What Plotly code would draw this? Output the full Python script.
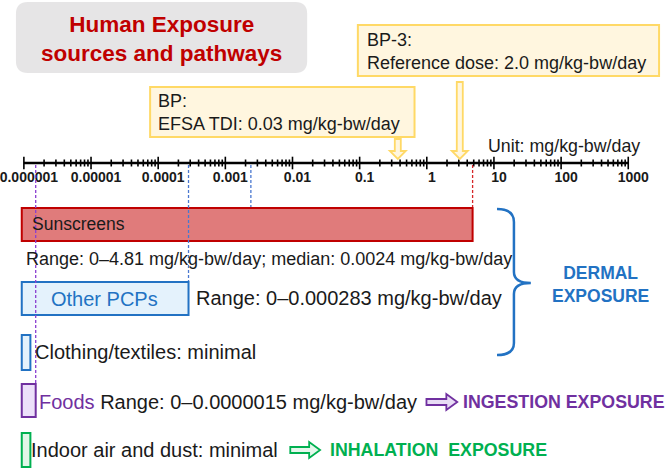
import numpy as np
import plotly.graph_objects as go

# values in mg/kg-bw/day
decades = [1e-6, 1e-5, 1e-4, 1e-3, 1e-2, 1e-1, 1, 10, 100, 1000]
decade_labels = ["0.000001", "0.00001", "0.0001", "0.001", "0.01", "0.1", "1", "10", "100", "1000"]
zero_pos = 9.3e-7          # "0" drawn just left of the axis start
sunscreen_max = 4.81
sunscreen_median = 0.0024
other_pcp_max = 0.000283
foods_max = 0.0000015
minimal = 1.25e-6
bp_arrow_at = 0.37         # arrows where they touch the axis (as drawn)
bp3_arrow_at = 3.1

FONT = "Arial, Liberation Sans, sans-serif"
W, H = 669, 470
AXIS_Y = 163

RED = "#c00000"
BLUE = "#2272c3"
PURPLE = "#7030a0"
GREEN = "#00b050"
GOLD = "#ffd966"
CREAM = "#fff6df"

minor = [m * d for d in decades[:-1] for m in range(2, 10)]

fig = go.Figure()

# axis ticks, both sides of the line
fig.add_trace(go.Scatter(
    x=minor, y=[AXIS_Y] * len(minor), mode="markers", hoverinfo="skip",
    marker={"symbol": "line-ns", "size": 5, "line": {"width": 1.6, "color": "black"}},
))
fig.add_trace(go.Scatter(
    x=decades, y=[AXIS_Y] * len(decades), mode="markers", hoverinfo="skip",
    marker={"symbol": "line-ns", "size": 9, "line": {"width": 1.6, "color": "black"}},
))
# invisible trace so the pixel overlay axis exists
fig.add_trace(go.Scatter(x=[0, W], y=[0, H], xaxis="x2", mode="markers",
                         marker={"opacity": 0}, hoverinfo="skip"))

shapes = []
# axis line
shapes.append(dict(type="line", xref="x", yref="y", x0=decades[0], x1=decades[-1],
                   y0=AXIS_Y, y1=AXIS_Y, line={"color": "black", "width": 2.5}))


def bar(x1, y0, y1, fill, edge, width=2):
    shapes.append(dict(type="rect", xref="x", yref="y", x0=zero_pos, x1=x1, y0=y0, y1=y1,
                       fillcolor=fill, line={"color": edge, "width": width}, layer="below"))


def guide(x, y1, color):
    shapes.append(dict(type="line", xref="x", yref="y", x0=x, x1=x, y0=AXIS_Y + 2, y1=y1,
                       line={"color": color, "width": 1.3, "dash": "3px,2px"}))


bar(sunscreen_max, 208, 241, "#e07b7b", RED)
bar(other_pcp_max, 282, 315, "#e4f2fc", BLUE)
bar(minimal, 335, 370, "#e4f2fc", BLUE)
bar(foods_max, 384, 417, "#ece0fa", PURPLE)
bar(minimal, 433, 467, "#e2f6e8", GREEN)

guide(sunscreen_max, 207, "#d62728")
guide(sunscreen_median, 207, "#4a78d0")
guide(other_pcp_max, 281, "#4a78d0")
guide(foods_max, 383, "#8a3fd0")

# title box
r = 12
x0, x1, y0, y1 = 12, 305, 2, 73
shapes.append(dict(
    type="path", xref="x2", yref="y", fillcolor="#e6e5e6", line={"width": 0},
    path=(f"M{x0+r},{y0} L{x1-r},{y0} Q{x1},{y0} {x1},{y0+r} L{x1},{y1-r} Q{x1},{y1} {x1-r},{y1} "
          f"L{x0+r},{y1} Q{x0},{y1} {x0},{y1-r} L{x0},{y0+r} Q{x0},{y0} {x0+r},{y0} Z"),
))
# reference dose boxes
shapes.append(dict(type="rect", xref="x2", yref="y", x0=356, x1=659, y0=25, y1=76,
                   fillcolor=CREAM, line={"color": GOLD, "width": 2}))
shapes.append(dict(type="rect", xref="x2", yref="y", x0=147, x1=413, y0=87, y1=137,
                   fillcolor=CREAM, line={"color": GOLD, "width": 2}))


def down_arrow(xval, top):
    # hollow block arrow, x anchored to the data axis, size in pixels
    shapes.append(dict(
        type="path", xref="x", yref="y", xsizemode="pixel", xanchor=xval,
        path=(f"M-3,{top} L3,{top} L3,{AXIS_Y-12} L8,{AXIS_Y-12} L0,{AXIS_Y-4} "
              f"L-8,{AXIS_Y-12} L-3,{AXIS_Y-12} Z"),
        fillcolor=CREAM, line={"color": GOLD, "width": 1.8},
    ))


down_arrow(bp3_arrow_at, 82)
down_arrow(bp_arrow_at, 139)


def right_arrow(xa, xb, yc, edge, fill):
    xm = xb - 11
    shapes.append(dict(
        type="path", xref="x2", yref="y", fillcolor=fill, line={"color": edge, "width": 1.8},
        path=(f"M{xa},{yc-3} L{xm},{yc-3} L{xm},{yc-8} L{xb},{yc} L{xm},{yc+8} "
              f"L{xm},{yc+3} L{xa},{yc+3} Z"),
    ))


right_arrow(425, 456, 402, PURPLE, "#e8dcf5")
right_arrow(288, 318, 450, GREEN, "#e6f7ec")

# brace
shapes.append(dict(
    type="path", xref="x2", yref="y", line={"color": BLUE, "width": 2.5},
    path=("M496,209 Q513,209 513,222 L513,272 Q513,283 530,283 "
          "Q513,283 513,294 L513,343 Q513,355 496,355"),
))

ann = []


def text(x, y, s, size=20, color="#1a1a1a", bold=False, anchor="left"):
    if bold:
        s = f"<b>{s}</b>"
    ann.append(dict(x=x, y=y, xref="x2", yref="y", text=s, showarrow=False,
                    xanchor=anchor, yanchor="middle", align=anchor,
                    xshift=-3 if anchor == "left" else 0,
                    font={"family": FONT, "size": size, "color": color}))


text(158, 39, "Human Exposure<br>sources and pathways", size=22.5, color=RED, bold=True, anchor="center")
text(366, 51, "BP-3:<br>Reference dose: 2.0 mg/kg-bw/day", size=18)
text(156, 112, "BP:<br>EFSA TDI: 0.03 mg/kg-bw/day", size=18)
text(488, 146, "Unit: mg/kg-bw/day", size=17.8)
text(29, 224, "Sunscreens", size=17.5)
text(23, 259, "Range: 0–4.81 mg/kg-bw/day; median: 0.0024 mg/kg-bw/day", size=18)
text(101, 299, "Other PCPs", size=20, color=BLUE, anchor="center")
text(194, 298, "Range: 0–0.000283 mg/kg-bw/day", size=20)
text(600, 284, "DERMAL<br>EXPOSURE", size=17.5, color=BLUE, bold=True, anchor="center")
text(32, 352, "Clothing/textiles: minimal", size=20)
text(36, 402, f"<span style='color:{PURPLE}'>Foods</span> Range: 0–0.0000015 mg/kg-bw/day", size=20)
text(463, 402, "INGESTION EXPOSURE", size=17.8, color=PURPLE, bold=True)
text(28, 450, "Indoor air and dust: minimal", size=20)
text(329, 450, "INHALATION  EXPOSURE", size=17.8, color=GREEN, bold=True)

lo = np.log10(decades[0]) - 20 / 67.56
hi = np.log10(decades[-1]) + 41 / 67.56

fig.update_layout(
    width=W, height=H,
    margin={"l": 0, "r": 0, "t": 0, "b": 0},
    showlegend=False,
    plot_bgcolor="white", paper_bgcolor="white",
    shapes=shapes, annotations=ann,
    xaxis={"type": "log", "range": [lo, hi], "domain": [0, 1],
           "tickvals": decades, "ticktext": [f"<b>{t}</b>" for t in decade_labels],
           "tickfont": {"family": FONT, "size": 14, "color": "#1a1a1a"},
           "ticklabeloverflow": "allow", "ticklabelshift": 5,
           "showgrid": False, "zeroline": False, "showline": False, "ticks": "",
           "anchor": "free", "position": 1 - 167 / H, "fixedrange": True},
    xaxis2={"range": [0, W], "overlaying": "x", "visible": False, "fixedrange": True},
    yaxis={"range": [H, 0], "visible": False, "fixedrange": True},
)

fig.write_html("out.html", config={"displayModeBar": False},
               post_script="document.body.style.margin = '0';")
